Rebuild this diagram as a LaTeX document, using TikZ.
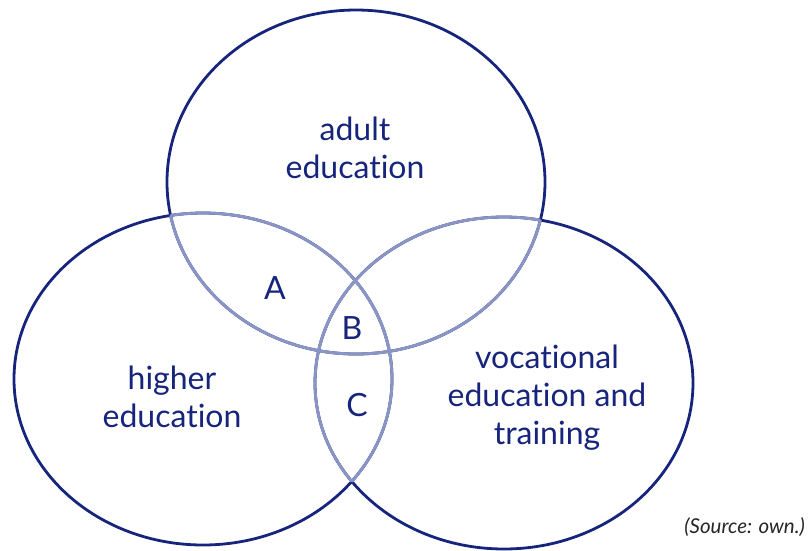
\documentclass[tikz,border=0pt]{standalone}
\usepackage{fontspec}
\setmainfont{Lato}[Ligatures=NoCommon]
\usetikzlibrary{positioning}
\definecolor{navy}{HTML}{16247C}
\definecolor{softnavy}{HTML}{8A95C6}
\tikzset{ring/.style = {draw=navy, line width=2.8}}
\tikzset{soft/.style = {draw=softnavy, line width=2.8}}
\tikzset{lbl/.style = {text=navy, align=center, inner sep=0,
                       font=\fontsize{32}{38}\selectfont}}
\tikzset{big/.style = {x radius=189, y radius=172}}
\tikzset{low/.style = {x radius=189, y radius=166}}

\begin{document}
\begin{tikzpicture}[x=1pt, y=-1pt]
    \useasboundingbox (0, 0) rectangle (808, 550);

    \coordinate (adult) at (356, 182);
    \coordinate (higher) at (203, 379);
    \coordinate (voc) at (504, 383);

    \draw [ring] (adult) ellipse [big];
    \draw [ring] (higher) ellipse [low];
    \draw [ring] (voc) ellipse [low];

    % inner arcs are lighter
    \begin{scope}
      \clip (higher) ellipse [low];
      \draw [soft] (adult) ellipse [big];
      \draw [soft] (voc) ellipse [low];
    \end{scope}
    \begin{scope}
      \clip (voc) ellipse [low];
      \draw [soft] (adult) ellipse [big];
      \draw [soft] (higher) ellipse [low];
    \end{scope}
    \begin{scope}
      \clip (adult) ellipse [big];
      \draw [soft] (higher) ellipse [low];
      \draw [soft] (voc) ellipse [low];
    \end{scope}

    \node [lbl] (adultlbl) at (355, 148) {adult\\education};
    \node [lbl] (higherlbl) at (172, 397) {higher\\education};
    \node [lbl] (voclbl) at (547, 398) {vocational\\education and\\training};

    \node [lbl] (a) at (275, 288) {A};
    \node [lbl] (b) at (352, 328) {B};
    \node [lbl] (c) at (357, 405) {C};

    \node [anchor=east, inner sep=0, text=black!85,
           font=\fontsize{20.5}{22}\selectfont\itshape] (src) at (805, 527) {(Source: own.)};
\end{tikzpicture}
\end{document}
